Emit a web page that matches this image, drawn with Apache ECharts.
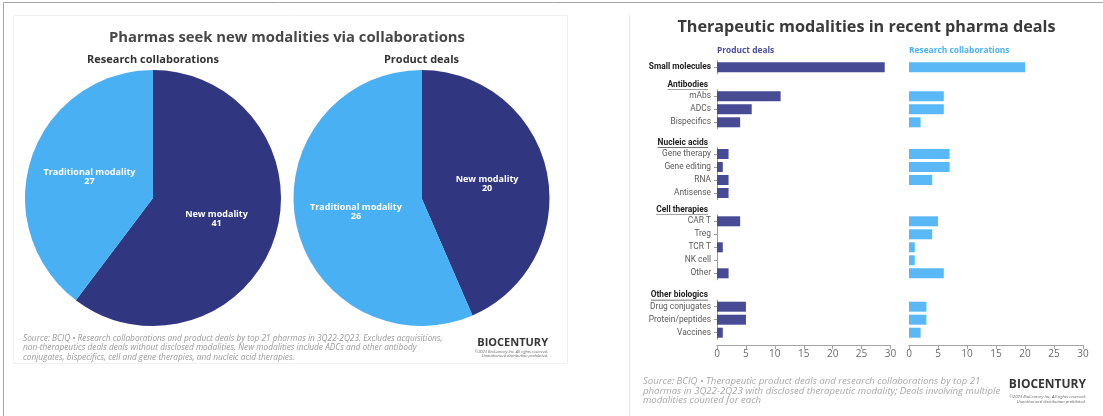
<!DOCTYPE html>
<html>
<head>
<meta charset="utf-8">
<script src="https://cdn.jsdelivr.net/npm/echarts@6/dist/echarts.min.js"></script>
<style>
  html, body { margin: 0; padding: 0; background: #ffffff; }
  #chart { width: 1103px; height: 416px; }
</style>
</head>
<body>
<div id="chart"></div>
<script>
// ---- Pie data: deals split by modality type ----
const pieNames = ['New modality', 'Traditional modality'];
const researchPieValues = [41, 27];
const productPieValues = [20, 26];

// ---- Bar data: therapeutic modalities in recent pharma deals ----
const groupNames = ['', 'Antibodies', 'Nucleic acids', 'Cell therapies', 'Other biologics'];
const groupSizes = [1, 3, 4, 5, 3];
const modalities = [
  'Small molecules',
  'mAbs', 'ADCs', 'Bispecifics',
  'Gene therapy', 'Gene editing', 'RNA', 'Antisense',
  'CAR T', 'Treg', 'TCR T', 'NK cell', 'Other',
  'Drug conjugates', 'Protein/peptides', 'Vaccines'
];
const productDeals    = [29, 11, 6, 4, 2, 1, 2, 2, 4, 0, 1, 0, 2, 5, 5, 1];
const researchCollabs = [20, 6, 6, 2, 7, 7, 4, 0, 5, 4, 1, 1, 6, 3, 3, 2];
const xAxisMin = 0, xAxisMax = 30, xAxisStep = 5;

// ---- Styling ----
const DARK = '#30367f';
const LIGHT = '#49b0f4';
const BAR_DARK = '#474b93';
const BAR_LIGHT = '#5bb8f7';
const TITLE_FONT = '"Open Sans", "Noto Sans", sans-serif';
const LABEL_FONT = 'Roboto, "Noto Sans", sans-serif';

// ---- Layout of the bar panels ----
const groupTops = [60.8, 89.8, 147.5, 214.8, 300.2];
const rowH = 13;
const panels = [
  { left: 717, width: 173.5, color: BAR_DARK, values: productDeals, showY: true },
  { left: 909, width: 174, color: BAR_LIGHT, values: researchCollabs, showY: false }
];

const chart = echarts.init(document.getElementById('chart'), null, { renderer: 'canvas' });

const grid = [], xAxis = [], yAxis = [], series = [];
const lastGroup = groupSizes.length - 1;

panels.forEach((p) => {
  let start = 0;
  groupSizes.forEach((size, g) => {
    const idx = grid.length;
    const items = modalities.slice(start, start + size);
    const vals = p.values.slice(start, start + size);
    start += size;
    grid.push({ left: p.left, top: groupTops[g], width: p.width, height: size * rowH, containLabel: false });
    const isBottom = g === lastGroup;
    xAxis.push({
      type: 'value', gridIndex: idx, min: xAxisMin, max: xAxisMax, interval: xAxisStep,
      show: isBottom, offset: 6,
      axisLine: { show: true, lineStyle: { color: '#a3a3a3', width: 1 } },
      axisTick: { show: true, length: 4, lineStyle: { color: '#a3a3a3' } },
      axisLabel: { fontSize: 10, color: '#6a6a6a', margin: 4, fontFamily: TITLE_FONT },
      splitLine: { show: false }
    });
    yAxis.push({
      type: 'category', gridIndex: idx, inverse: true, data: items,
      axisLine: { show: p.showY, lineStyle: { color: '#9d9d9d', width: 1 } },
      axisTick: { show: p.showY, alignWithLabel: true, length: 3, lineStyle: { color: '#9d9d9d' } },
      axisLabel: {
        show: p.showY, fontSize: 8.4, margin: 6, fontFamily: LABEL_FONT,
        color: g === 0 ? '#222222' : '#5a5a5a', fontWeight: g === 0 ? 'bold' : 'normal'
      }
    });
    series.push({
      type: 'bar', xAxisIndex: idx, yAxisIndex: idx, data: vals, barWidth: 10, silent: true,
      itemStyle: { color: p.color }
    });
  });
});

// Pie series: research collaborations (left) and product deals (right)
function pieSeries(center, values) {
  return {
    type: 'pie', center: center, radius: 128, startAngle: 90, clockwise: true, silent: true,
    label: {
      show: true, position: 'inside', formatter: '{b}\n{c}', color: '#ffffff',
      fontSize: 9, fontWeight: 'bold', lineHeight: 9, fontFamily: TITLE_FONT
    },
    labelLine: { show: false },
    data: pieNames.map((n, i) => ({ name: n, value: values[i], itemStyle: { color: i === 0 ? DARK : LIGHT } }))
  };
}
series.push(pieSeries([153, 198], researchPieValues));
series.push(pieSeries([421.5, 198], productPieValues));

// Static text and frame
function txt(x, y, text, font, fill, align, extra) {
  return {
    type: 'text', x: x, y: y, silent: true,
    style: Object.assign({ text: text, font: font, fill: fill, align: align, textAlign: align,
      verticalAlign: 'middle', textVerticalAlign: 'middle' }, extra || {})
  };
}

const measureCtx = document.createElement('canvas').getContext('2d');
function textWidth(t, font) { measureCtx.font = font; return measureCtx.measureText(t).width; }

const graphic = [
  // outer frame
  { type: 'line', silent: true, shape: { x1: 3.5, y1: 2.5, x2: 1103, y2: 2.5 }, style: { stroke: '#a5a5a5', lineWidth: 1 } },
  { type: 'line', silent: true, shape: { x1: 3.5, y1: 2.5, x2: 3.5, y2: 416 }, style: { stroke: '#a5a5a5', lineWidth: 1 } },
  // left panel card
  { type: 'rect', silent: true, shape: { x: 13.5, y: 15.5, width: 554, height: 348 }, style: { fill: 'none', stroke: '#f0f0f0', lineWidth: 1 } },
  // right panel edge
  { type: 'line', silent: true, shape: { x1: 629.5, y1: 15, x2: 629.5, y2: 416 }, style: { stroke: '#e8e8e8', lineWidth: 1 } },

  txt(287, 38, 'Pharmas seek new modalities via collaborations', 'bold 14.8px ' + TITLE_FONT, '#474747', 'center'),
  txt(153, 60, 'Research collaborations', 'bold 11px ' + TITLE_FONT, '#333333', 'center'),
  txt(421.5, 60, 'Product deals', 'bold 11px ' + TITLE_FONT, '#333333', 'center'),

  txt(866.5, 27, 'Therapeutic modalities in recent pharma deals', 'bold 16.2px ' + TITLE_FONT, '#3a3a3a', 'center'),
  txt(717, 50.5, 'Product deals', 'bold 8.4px ' + TITLE_FONT, '#4a4f9c', 'left'),
  txt(909, 50.5, 'Research collaborations', 'bold 8.4px ' + TITLE_FONT, '#4db2f5', 'left'),

  // footnotes
  txt(23, 348, 'Source: BCIQ \u2022 Research collaborations and product deals by top 21 pharmas in 3Q22-2Q23. Excludes acquisitions,\nnon-therapeutics deals deals without disclosed modalities. New modalities include ADCs and other antibody\nconjugates, bispecifics, cell and gene therapies, and nucleic acid therapies.',
      'italic 8.3px ' + TITLE_FONT, '#9a9a9a', 'left', { lineHeight: 9.3 }),
  txt(643, 391, 'Source: BCIQ \u2022 Therapeutic product deals and research collaborations by top 21\npharmas in 3Q22-2Q23 with disclosed therapeutic modality; Deals involving multiple\nmodalities counted for each',
      'italic 9.6px ' + TITLE_FONT, '#a8a8a8', 'left', { lineHeight: 9.4 }),

  // BioCentury marks
  txt(548, 343, 'BIOCENTURY', 'bold 11px ' + TITLE_FONT, '#363636', 'right'),
  txt(548, 354, '\u00a92023 BioCentury Inc. All rights reserved.\nUnauthorized distribution prohibited.', 'italic 4px ' + TITLE_FONT, '#666666', 'right', { lineHeight: 4.6 }),
  txt(1086, 385, 'BIOCENTURY', 'bold 12px ' + TITLE_FONT, '#363636', 'right'),
  txt(1086, 399, '\u00a92023 BioCentury Inc. All rights reserved.\nUnauthorized distribution prohibited.', 'italic 4.2px ' + TITLE_FONT, '#666666', 'right', { lineHeight: 4.8 })
];

// Group headers, underlined, right-aligned against the product axis
const headerFont = 'bold 8.4px ' + LABEL_FONT;
groupNames.forEach((name, g) => {
  if (!name) return;
  const y = groupTops[g] - 5;
  const w = textWidth(name, headerFont);
  graphic.push(txt(708, y, name, headerFont, '#222222', 'right'));
  graphic.push({ type: 'rect', silent: true, shape: { x: 708 - w, y: y + 4.6, width: w, height: 0.7 }, style: { fill: '#444444' } });
});

chart.setOption({
  animation: false,
  backgroundColor: '#ffffff',
  grid: grid,
  xAxis: xAxis,
  yAxis: yAxis,
  series: series,
  graphic: graphic
});
</script>
</body>
</html>
